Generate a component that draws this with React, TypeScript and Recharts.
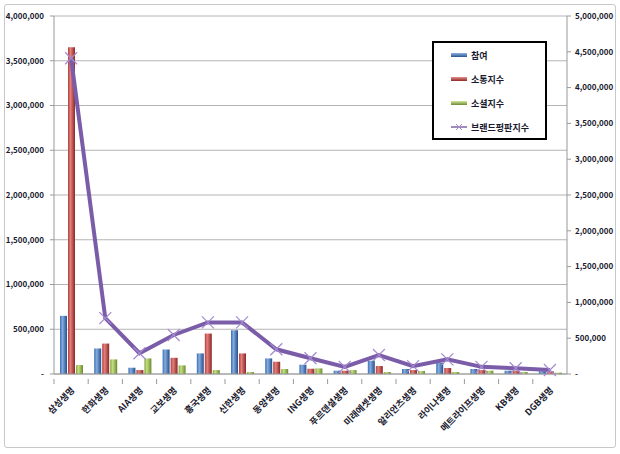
import React from "react";
import {
    ComposedChart,
    Bar,
    Line,
    XAxis,
    YAxis,
    CartesianGrid,
} from "recharts";

// 보험사별 수치
const companies = [
    "삼성생명", "한화생명", "AIA생명", "교보생명", "흥국생명", "신한생명", "동양생명", "ING생명",
    "푸르덴셜생명", "미래에셋생명", "알리안츠생명", "라이나생명", "메트라이프생명", "KB생명", "DGB생명",
];
const participation = [650000, 285000, 70000, 274000, 230000, 489000, 174000, 104000, 37000, 148000, 56000, 126000, 56000, 37000, 30000];
const communication = [3650000, 340000, 44000, 181000, 452000, 230000, 137000, 59000, 37000, 89000, 44000, 67000, 44000, 37000, 30000];
const social = [100000, 163000, 174000, 96000, 44000, 22000, 56000, 63000, 44000, 22000, 33000, 22000, 37000, 22000, 15000];
const brandIndex = [4410000, 780000, 290000, 545000, 720000, 720000, 345000, 220000, 100000, 265000, 110000, 205000, 100000, 80000, 56000];

const leftTicks = [0, 500000, 1000000, 1500000, 2000000, 2500000, 3000000, 3500000, 4000000];
const rightTicks = [0, 500000, 1000000, 1500000, 2000000, 2500000, 3000000, 3500000, 4000000, 4500000, 5000000];

const seriesNames = ["참여", "소통지수", "소셜지수", "브랜드평판지수"];

const chartData = companies.map((name, i) => ({
    name,
    participation: participation[i],
    communication: communication[i],
    social: social[i],
    brandIndex: brandIndex[i],
}));

const FONT = "'Noto Sans CJK KR', 'Noto Sans', sans-serif";
const TEXT = "#1a1a2e";

const fmt = (v: number) => (v === 0 ? "-" : v.toLocaleString("en-US"));

function CategoryTick(props: any) {
    const { x, y, payload } = props;
    const band = 513 / companies.length;
    return (
        <g>
            <line x1={x - band / 2} y1={y - 3} x2={x - band / 2} y2={y + 2} stroke="#999" />
            <text
                x={x + 4}
                y={y + 9}
                textAnchor="end"
                transform={`rotate(-45, ${x + 4}, ${y + 9})`}
                fontFamily={FONT}
                fontSize={9}
                fontWeight="bold"
                fill={TEXT}
            >
                {payload.value}
            </text>
        </g>
    );
}

function Cross(props: any) {
    const { cx, cy } = props;
    if (cx == null || cy == null) return null;
    const s = 6;
    return (
        <g stroke="#a48ad0" strokeWidth={1.2}>
            <line x1={cx - s} y1={cy - s} x2={cx + s} y2={cy + s} />
            <line x1={cx - s} y1={cy + s} x2={cx + s} y2={cy - s} />
        </g>
    );
}

const legendTop = ["#8db3e2", "#e8908d", "#d3e69a"];
const legendBottom = ["#2a5590", "#8c2a28", "#6e8a2f"];

function LegendBox() {
    return (
        <div
            style={{
                position: "absolute",
                left: 432,
                top: 41,
                width: 111,
                height: 95,
                border: "2px solid #000",
                background: "#fff",
            }}
        >
            {seriesNames.map((label, i) => (
                <div
                    key={label}
                    style={{
                        position: "absolute",
                        left: 17,
                        top: 6 + i * 24,
                        height: 12,
                        display: "flex",
                        alignItems: "center",
                        fontFamily: FONT,
                        fontSize: 9,
                        fontWeight: "bold",
                        color: TEXT,
                        whiteSpace: "nowrap",
                    }}
                >
                    <svg width={18} height={10} style={{ marginRight: 2 }}>
                        <defs>
                            <linearGradient id={`lg${i}`} x1="0" y1="0" x2="0" y2="1">
                                <stop offset="0%" stopColor={legendTop[i] || "#fff"} />
                                <stop offset="100%" stopColor={legendBottom[i] || "#fff"} />
                            </linearGradient>
                        </defs>
                        {i === 3 ? (
                            <g>
                                <line x1={0} y1={5} x2={16} y2={5} stroke="#8064a2" strokeWidth={1.5} />
                                <line x1={5} y1={2} x2={11} y2={8} stroke="#a48ad0" />
                                <line x1={5} y1={8} x2={11} y2={2} stroke="#a48ad0" />
                            </g>
                        ) : (
                            <rect x={0} y={3} width={16} height={4} fill={`url(#lg${i})`} />
                        )}
                    </svg>
                    {label}
                </div>
            ))}
        </div>
    );
}

export default function App() {
    return (
        <div style={{ position: "fixed", left: 0, top: 0, width: 620, height: 454, background: "#fff" }}>
            <div
                style={{
                    position: "absolute",
                    left: 4,
                    top: 4,
                    width: 610,
                    height: 442,
                    border: "1px solid #c8c8c8",
                    borderRadius: 3,
                }}
            />
            <ComposedChart
                width={620}
                height={454}
                data={chartData}
                margin={{ top: 16, right: 0, left: 0, bottom: 0 }}
                barSize={7}
                barGap={1}
                style={{ position: "absolute", left: 0, top: 0 }}
            >
                <defs>
                    <linearGradient id="gBlue" x1="0" y1="0" x2="1" y2="0">
                        <stop offset="0%" stopColor="#3a6fb0" />
                        <stop offset="35%" stopColor="#86acdf" />
                        <stop offset="100%" stopColor="#24508c" />
                    </linearGradient>
                    <linearGradient id="gRed" x1="0" y1="0" x2="1" y2="0">
                        <stop offset="0%" stopColor="#b13f3c" />
                        <stop offset="35%" stopColor="#e47f7c" />
                        <stop offset="100%" stopColor="#8a2826" />
                    </linearGradient>
                    <linearGradient id="gGreen" x1="0" y1="0" x2="1" y2="0">
                        <stop offset="0%" stopColor="#85a33f" />
                        <stop offset="35%" stopColor="#c6df84" />
                        <stop offset="100%" stopColor="#6a8a2c" />
                    </linearGradient>
                </defs>
                <CartesianGrid yAxisId="left" vertical={false} stroke="#b4b4b4" />
                <XAxis
                    dataKey="name"
                    height={80}
                    interval={0}
                    tick={<CategoryTick />}
                    tickLine={false}
                    axisLine={{ stroke: "#999" }}
                />
                <YAxis
                    yAxisId="left"
                    width={54}
                    domain={[0, 4000000]}
                    ticks={leftTicks}
                    interval={0}
                    tickFormatter={fmt}
                    tickSize={4}
                    tickMargin={6}
                    tickLine={{ stroke: "#999" }}
                    axisLine={{ stroke: "#999" }}
                    tick={{ fontFamily: FONT, fontSize: 8, fontWeight: "bold", fill: TEXT }}
                />
                <YAxis
                    yAxisId="right"
                    orientation="right"
                    width={53}
                    domain={[0, 5000000]}
                    ticks={rightTicks}
                    interval={0}
                    tickFormatter={fmt}
                    tickSize={4}
                    tickMargin={4}
                    tickLine={{ stroke: "#999" }}
                    axisLine={{ stroke: "#999" }}
                    tick={{ fontFamily: FONT, fontSize: 8, fontWeight: "bold", fill: TEXT }}
                />
                <Bar yAxisId="left" dataKey="participation" name={seriesNames[0]} fill="url(#gBlue)" isAnimationActive={false} />
                <Bar yAxisId="left" dataKey="communication" name={seriesNames[1]} fill="url(#gRed)" isAnimationActive={false} />
                <Bar yAxisId="left" dataKey="social" name={seriesNames[2]} fill="url(#gGreen)" isAnimationActive={false} />
                <Line
                    yAxisId="right"
                    dataKey="brandIndex"
                    name={seriesNames[3]}
                    type="linear"
                    stroke="#7b5ca8"
                    strokeWidth={4}
                    dot={<Cross />}
                    activeDot={false}
                    isAnimationActive={false}
                />
            </ComposedChart>
            <LegendBox />
        </div>
    );
}
